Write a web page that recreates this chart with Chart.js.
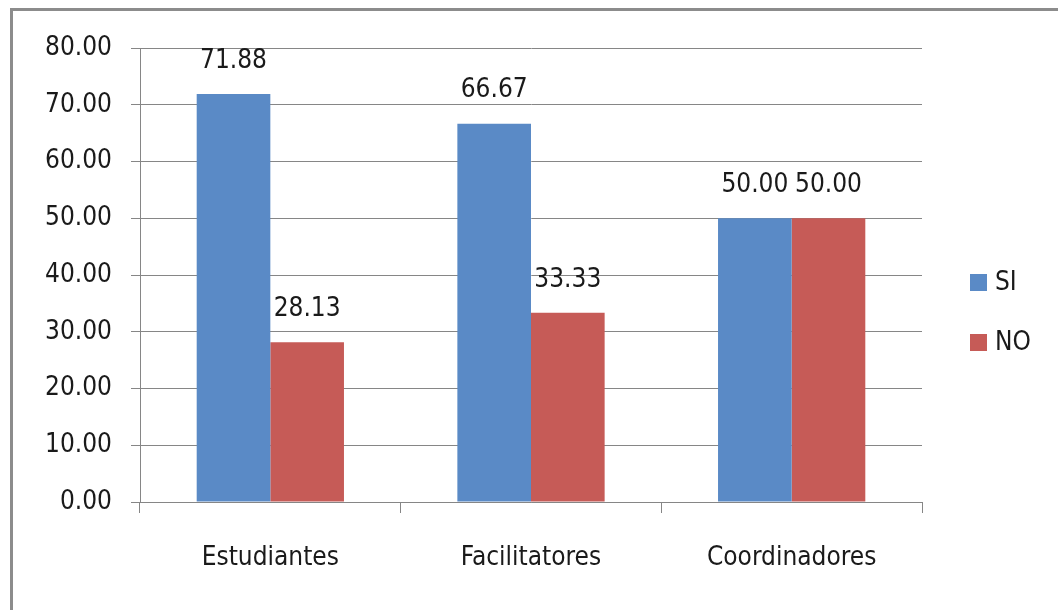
<!DOCTYPE html>
<html>
<head>
<meta charset="utf-8">
<script src="https://cdn.jsdelivr.net/npm/chart.js@4.4.1/dist/chart.umd.min.js"></script>
<style>
  html, body { margin: 0; padding: 0; background: #fff; overflow: hidden; }
  #marco { position: absolute; left: 10px; top: 8px; width: 1200px; height: 800px; border: 3px solid #8c8c8c; }
  #grafico { position: absolute; left: 0; top: 0; }
</style>
</head>
<body>
<div id="marco"></div>
<canvas id="grafico" width="1058" height="610"></canvas>
<script>
// Datos
const categorias = ['Estudiantes', 'Facilitatores', 'Coordinadores'];
const valoresSi = [71.88, 66.67, 50.00];
const valoresNo = [28.13, 33.33, 50.00];
const nombresSeries = ['SI', 'NO'];

const colorSi = '#5A8AC6';
const colorNo = '#C65B57';
const colorEje = '#868686';
const colorTexto = '#1a1a1a';
const fuente = { family: "'DejaVu Sans Condensed', 'DejaVu Sans', sans-serif", size: 26 };

// Etiquetas con el valor encima de cada barra
const etiquetasValor = {
  id: 'etiquetasValor',
  afterDatasetsDraw(chart) {
    const ctx = chart.ctx;
    ctx.save();
    ctx.font = `${fuente.size}px ${fuente.family}`;
    ctx.fillStyle = colorTexto;
    ctx.textAlign = 'center';
    ctx.textBaseline = 'middle';
    chart.data.datasets.forEach((ds, i) => {
      chart.getDatasetMeta(i).data.forEach((bar, j) => {
        ctx.fillText(ds.data[j].toFixed(2), bar.x, bar.y - 33);
      });
    });
    ctx.restore();
  }
};

// Leyenda a la derecha (cuadro + texto)
const leyenda = {
  id: 'leyenda',
  afterDraw(chart) {
    const ctx = chart.ctx;
    ctx.save();
    ctx.font = `${fuente.size}px ${fuente.family}`;
    ctx.textBaseline = 'middle';
    chart.data.datasets.forEach((ds, i) => {
      const y = 283 + i * 60;
      ctx.fillStyle = ds.backgroundColor;
      ctx.fillRect(970, y - 9, 17, 17);
      ctx.fillStyle = colorTexto;
      ctx.fillText(ds.label, 995, y);
    });
    ctx.restore();
  }
};

new Chart(document.getElementById('grafico'), {
  type: 'bar',
  data: {
    labels: categorias,
    datasets: [
      { label: nombresSeries[0], data: valoresSi, backgroundColor: colorSi, categoryPercentage: 0.565, barPercentage: 1 },
      { label: nombresSeries[1], data: valoresNo, backgroundColor: colorNo, categoryPercentage: 0.565, barPercentage: 1 }
    ]
  },
  options: {
    responsive: false,
    animation: false,
    layout: { padding: { top: 48, right: 136, left: 0, bottom: 0 } },
    plugins: {
      legend: { display: false },
      tooltip: { enabled: false }
    },
    scales: {
      x: {
        afterFit: s => { s.height = 108; },
        grid: { offset: true, drawOnChartArea: false, color: colorEje, tickLength: 11 },
        border: { color: colorEje },
        ticks: { font: fuente, color: colorTexto, padding: 30 }
      },
      y: {
        min: 0,
        max: 80,
        afterFit: s => { s.width = 140; },
        grid: { color: colorEje, tickLength: 9 },
        border: { color: colorEje },
        ticks: {
          stepSize: 10,
          font: fuente,
          color: colorTexto,
          padding: 19,
          callback: v => v.toFixed(2)
        }
      }
    }
  },
  plugins: [etiquetasValor, leyenda]
});
</script>
</body>
</html>
